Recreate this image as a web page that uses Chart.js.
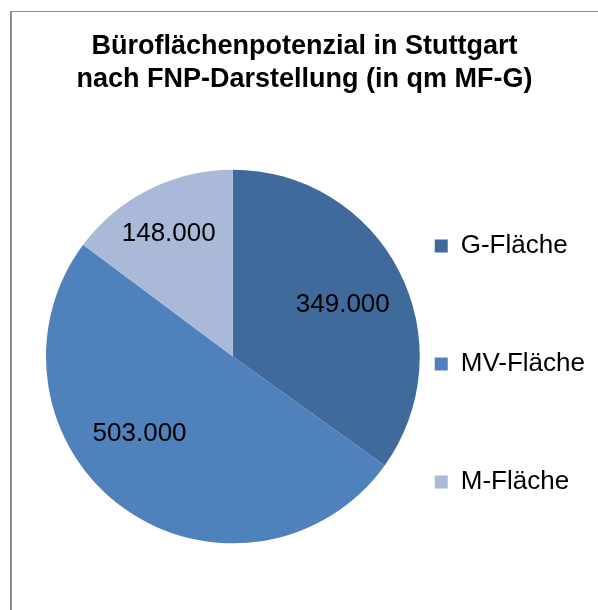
<!DOCTYPE html>
<html lang="de">
<head>
<meta charset="utf-8">
<title>Büroflächenpotenzial in Stuttgart</title>
<script src="https://cdn.jsdelivr.net/npm/chart.js@4.4.1/dist/chart.umd.min.js"></script>
<style>
  html, body { margin: 0; padding: 0; background: #fff; }
  #wrap { position: relative; width: 598px; height: 610px; overflow: hidden; }
  #frame { position: absolute; left: 10px; top: 11px; width: 700px; height: 700px;
           border-left: 2px solid #8f8f8f; border-top: 1px solid #8f8f8f; }
  canvas { position: absolute; left: 0; top: 0; }
</style>
</head>
<body>
<div id="wrap">
  <div id="frame"></div>
  <canvas id="pie"></canvas>
</div>
<script>
const titleLines = ['Büroflächenpotenzial in Stuttgart', 'nach FNP-Darstellung (in qm MF-G)'];
const categories = ['G-Fläche', 'MV-Fläche', 'M-Fläche'];
const values = [349000, 503000, 148000];
const colors = ['#40699c', '#4f81bd', '#aab9d7'];

const FONT = "'Liberation Sans', Arial, sans-serif";

function fmt(v) {
  return String(v).replace(/\B(?=(\d{3})+(?!\d))/g, '.');
}

// title centred over the whole frame, not just the plot
const titleSpan = {
  id: 'titleSpan',
  afterLayout(chart) {
    const t = chart.titleBlock;
    t.left = 11;
    t.right = chart.width;
    t.width = t.right - t.left;
  }
};

// value labels inside the slices
const sliceLabels = {
  id: 'sliceLabels',
  afterDatasetsDraw(chart, args, opts) {
    const ctx = chart.ctx;
    const meta = chart.getDatasetMeta(0);
    ctx.save();
    ctx.font = `26px ${FONT}`;
    ctx.fillStyle = '#000';
    ctx.textAlign = 'center';
    ctx.textBaseline = 'middle';
    meta.data.forEach((arc, i) => {
      const p = arc.getProps(['x', 'y', 'startAngle', 'endAngle', 'outerRadius'], true);
      const a = (p.startAngle + p.endAngle) / 2 + (opts.turn[i] || 0) * Math.PI / 180;
      const r = p.outerRadius * (opts.dist[i] || 0.65);
      ctx.fillText(fmt(chart.data.datasets[0].data[i]), p.x + Math.cos(a) * r, p.y + Math.sin(a) * r);
    });
    ctx.restore();
  }
};

const baseLabels = Chart.overrides.pie.plugins.legend.labels.generateLabels;

new Chart(document.getElementById('pie'), {
  type: 'pie',
  data: {
    labels: categories,
    datasets: [{ data: values, backgroundColor: colors, borderWidth: 0 }]
  },
  options: {
    responsive: true,
    maintainAspectRatio: false,
    animation: false,
    layout: { padding: { left: 46, right: 3, top: 0, bottom: 23 } },
    plugins: {
      title: {
        display: true,
        text: titleLines,
        color: '#000',
        font: { family: FONT, size: 27, weight: 'bold', lineHeight: '33px' },
        padding: { top: 30, bottom: 30 }
      },
      legend: {
        position: 'right',
        align: 'end',
        labels: {
          color: '#000',
          boxWidth: 13,
          boxHeight: 13,
          padding: 15,
          font: { family: FONT, size: 26, lineHeight: '103px' },
          generateLabels: chart => baseLabels(chart).map(item => ({ ...item, text: [item.text], lineWidth: 0 }))
        }
      },
      tooltip: { enabled: false },
      sliceLabels: { turn: [2, 14, -1], dist: [0.65, 0.65, 0.74] }
    }
  },
  plugins: [titleSpan, sliceLabels]
});
</script>
</body>
</html>
